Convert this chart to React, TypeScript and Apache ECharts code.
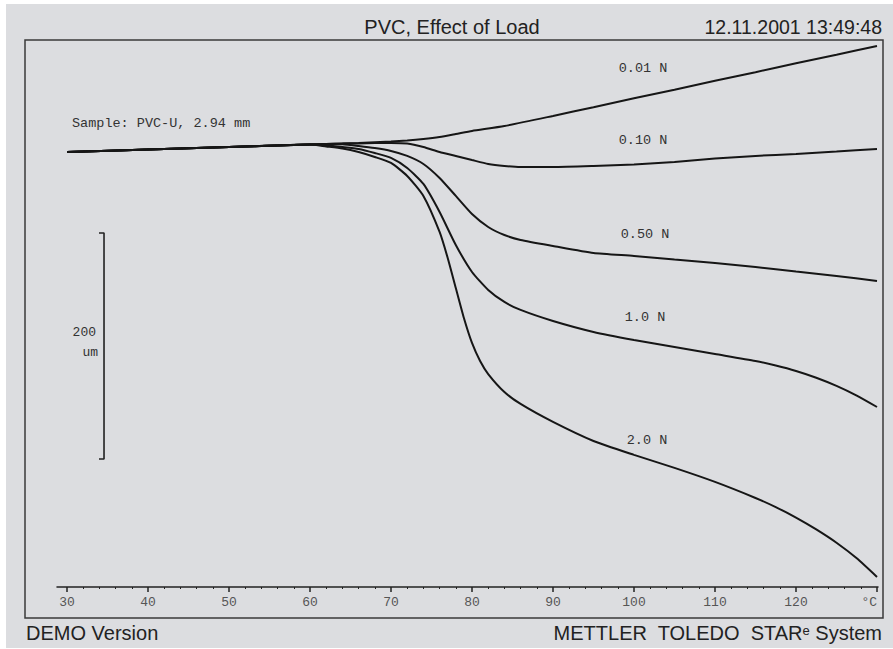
import React, { useEffect, useRef } from "react";
import * as echarts from "echarts";

// Temperature (°C) and length change (µm, relative to start)
const t001 = [30, 40, 50, 60, 64, 66, 70, 72, 74, 76, 78, 80, 84, 90, 95, 100, 105, 110, 115, 120, 125, 130];
const v001 = [0, 2.2, 4.4, 6.6, 7.5, 8.0, 9.3, 10.2, 11.5, 13.3, 15.9, 18.6, 23.0, 31.9, 39.6, 47.5, 55.1, 63.0, 70.6, 78.5, 86.1, 93.8];

const t010 = [30, 40, 50, 60, 64, 66, 68, 70, 72, 74, 76, 78, 80, 82, 84, 86, 90, 95, 100, 105, 110, 115, 120, 125, 130];
const v010 = [0, 2.2, 4.4, 6.6, 7.4, 7.6, 7.9, 8.0, 7.5, 4.4, 0, -3.5, -7.1, -10.6, -12.4, -13.3, -13.3, -12.4, -11.1, -8.8, -5.8, -3.5, -1.8, 0.4, 2.7];

const t050 = [30, 40, 50, 60, 62, 64, 66, 68, 70, 72, 74, 76, 78, 80, 82, 84, 86, 90, 95, 100, 105, 110, 115, 120, 125, 130];
const v050 = [0, 2.2, 4.4, 6.6, 7.0, 6.8, 5.3, 3.5, 0.9, -3.5, -10.6, -23.0, -38.9, -54.9, -66.4, -73.5, -77.9, -83.2, -89.4, -92.0, -95.1, -98.2, -101.8, -105.8, -109.7, -114.2];

const t100 = [30, 40, 50, 60, 62, 64, 66, 68, 70, 72, 74, 76, 78, 80, 82, 84, 86, 90, 95, 100, 105, 110, 115, 117.5, 120, 122.5, 125, 127.5, 130];
const v100 = [0, 2.2, 4.4, 6.6, 5.8, 4.4, 2.7, -0.9, -5.3, -14.2, -28.3, -53.1, -82.3, -106.2, -122.1, -132.7, -139.8, -149.6, -159.3, -166.4, -172.6, -178.8, -185.0, -189.0, -193.8, -199.8, -207.0, -215.6, -225.7];

const t200 = [30, 40, 50, 60, 62, 64, 66, 68, 70, 72, 74, 76, 77, 78, 79, 80, 81, 82, 84, 86, 90, 95, 100, 105, 110, 115, 117.5, 120, 122.5, 125, 127.5, 130];
const v200 = [0, 2.2, 4.4, 6.6, 4.9, 3.1, 0, -4.4, -9.7, -21.2, -38.9, -70.8, -93.8, -120.4, -146.9, -169.0, -185.0, -196.5, -212.4, -223.0, -238.9, -255.8, -268.1, -279.6, -292.0, -306.2, -314.3, -323.5, -334.0, -345.8, -359.6, -376.1];

// 200 µm scale bar
const scaleTemps = [33.95, 34.57, 34.57, 33.95];
const scaleValues = [-71.7, -71.7, -271.7, -271.7];

const xTicks = [30, 40, 50, 60, 70, 80, 90, 100, 110, 120, 130];
const curveLabels = ["0.01 N", "0.10 N", "0.50 N", "1.0 N", "2.0 N"];

const zip = (a: number[], b: number[]) => a.map((x, i) => [x, b[i]]);

export default function App() {
  const ref = useRef<HTMLDivElement>(null);
  useEffect(() => {
    if (!ref.current) return;
    const chart = echarts.init(ref.current, null, { renderer: "svg" });
    const mono = "'Liberation Mono', 'DejaVu Sans Mono', monospace";
    const sans = "'Liberation Sans', Arial, sans-serif";
    const lineStyle = { color: "#161616", width: 2 };
    const curves = [
      [t001, v001],
      [t010, v010],
      [t050, v050],
      [t100, v100],
      [t200, v200],
    ];
    const labelPos = [
      [643, 68],
      [643, 140],
      [645, 234],
      [645, 317],
      [647, 440],
    ];
    chart.setOption({
      animation: false,
      grid: [
        { left: 67, right: 16, top: 40, bottom: 62 },
        { left: 57, right: 15, top: 40, bottom: 62 },
      ],
      xAxis: [
        {
          type: "value",
          gridIndex: 0,
          min: 30,
          max: 130,
          interval: 10,
          axisLine: { show: false, onZero: false },
          axisTick: { show: true, length: 5, lineStyle: { color: "#222", width: 1.5 } },
          minorTick: { show: true, splitNumber: 5, length: 2, lineStyle: { color: "#222", width: 1 } },
          splitLine: { show: false },
          axisLabel: {
            margin: 9,
            color: "#555",
            fontFamily: mono,
            fontSize: 13,
            alignMaxLabel: "right",
            formatter: (v: number) => (xTicks.includes(v) ? (v === 130 ? "°C" : String(v)) : ""),
          },
        },
        {
          type: "value",
          gridIndex: 1,
          min: 0,
          max: 1,
          axisLine: { show: true, onZero: false, lineStyle: { color: "#222", width: 1.5 } },
          axisTick: { show: false },
          axisLabel: { show: false },
          splitLine: { show: false },
        },
      ],
      yAxis: [
        { type: "value", gridIndex: 0, min: -385, max: 99.1, show: false, splitLine: { show: false } },
        { type: "value", gridIndex: 1, min: 0, max: 1, show: false, splitLine: { show: false } },
      ],
      series: [
        ...curves.map(([t, v]) => ({
          type: "line",
          xAxisIndex: 0,
          yAxisIndex: 0,
          data: zip(t, v),
          showSymbol: false,
          smooth: 0.2,
          lineStyle,
          z: 3,
        })),
        {
          type: "line",
          xAxisIndex: 0,
          yAxisIndex: 0,
          data: zip(scaleTemps, scaleValues),
          showSymbol: false,
          lineStyle: { color: "#222", width: 1.6 },
          z: 3,
        },
      ],
      graphic: [
        { type: "rect", z: -10, shape: { x: 6, y: 4, width: 887, height: 644 }, style: { fill: "#dcdde0" } },
        {
          type: "rect",
          z: -5,
          shape: { x: 25, y: 40, width: 858, height: 578 },
          style: { fill: "none", stroke: "#3a3a3a", lineWidth: 1.5 },
        },
        {
          type: "text",
          x: 452,
          y: 27,
          style: { text: "PVC, Effect of Load", fill: "#222", font: `20px ${sans}`, align: "center", verticalAlign: "middle" },
        },
        {
          type: "text",
          x: 882,
          y: 27,
          style: { text: "12.11.2001 13:49:48", fill: "#222", font: `19.5px ${sans}`, align: "right", verticalAlign: "middle" },
        },
        {
          type: "text",
          x: 26,
          y: 633,
          style: { text: "DEMO Version", fill: "#222", font: `20px ${sans}`, align: "left", verticalAlign: "middle" },
        },
        {
          type: "text",
          x: 882,
          y: 633,
          style: {
            text: "{a|METTLER  TOLEDO  STAR}{s|e}{a| System}",
            align: "right",
            verticalAlign: "middle",
            rich: {
              a: { fill: "#222", fontFamily: sans, fontSize: 20 },
              s: { fill: "#222", fontFamily: sans, fontSize: 13, padding: [0, 0, 6, 0] },
            },
          },
        },
        {
          type: "text",
          x: 72,
          y: 123,
          style: { text: "Sample: PVC-U, 2.94 mm", fill: "#333", font: `13.5px ${mono}`, align: "left", verticalAlign: "middle" },
        },
        {
          type: "text",
          x: 96,
          y: 332,
          style: { text: "200", fill: "#333", font: `13px ${mono}`, align: "right", verticalAlign: "middle" },
        },
        {
          type: "text",
          x: 98,
          y: 352,
          style: { text: "um", fill: "#333", font: `13px ${mono}`, align: "right", verticalAlign: "middle" },
        },
        ...curveLabels.map((txt, i) => ({
          type: "text",
          x: labelPos[i][0],
          y: labelPos[i][1],
          style: { text: txt, fill: "#333", font: `13.5px ${mono}`, align: "center", verticalAlign: "middle" },
        })),
      ],
    });
    return () => chart.dispose();
  }, []);
  return (
    <div
      ref={ref}
      style={{ position: "fixed", left: 0, top: 0, width: 893, height: 649, background: "#fff" }}
    />
  );
}
